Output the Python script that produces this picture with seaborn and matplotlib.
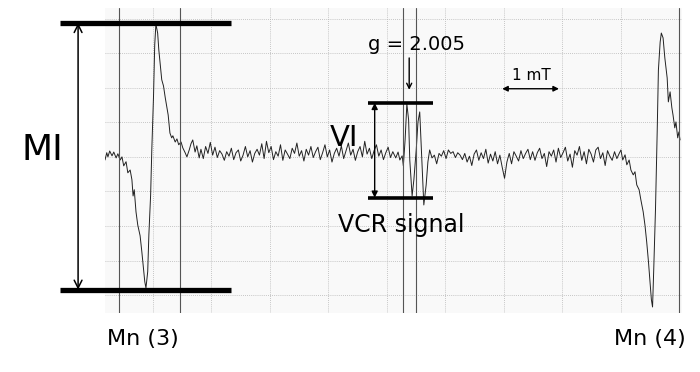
import matplotlib
matplotlib.use("Agg")
import matplotlib.pyplot as plt
import numpy as np
import pandas as pd
import seaborn as sns

# ESR trace: field in mT (grid = 1 mT), signal in grid divisions
# Mn(3) line
MN3_FIELD = [0.18, 0.21, 0.23, 0.26, 0.30, 0.33, 0.37, 0.40, 0.44, 0.47,
             0.50, 0.54, 0.57, 0.61, 0.64, 0.66, 0.68, 0.71, 0.74, 0.78,
             0.81, 0.84, 0.86, 0.88, 0.91, 0.93, 0.96, 0.98, 1.01, 1.03,
             1.05, 1.08, 1.10, 1.13, 1.15, 1.18, 1.21, 1.24, 1.26, 1.29,
             1.32, 1.34, 1.38, 1.41, 1.44, 1.48, 1.51, 1.55, 1.58, 1.62,
             1.65, 1.68, 1.72, 1.75, 1.79]
MN3_SIGNAL = [-0.09, 0.12, 0.00, 0.17, 0.03, 0.14, -0.03, 0.09, -0.09, 0.00,
              -0.26, -0.14, -0.46, -0.38, -0.66, -1.13, -0.95, -1.59, -1.97, -2.28,
              -2.75, -3.27, -3.61, -3.79, -3.32, -2.25, -1.10, 0.20, 1.79, 3.24,
              3.84, 3.58, 3.09, 2.57, 2.23, 2.05, 1.71, 1.42, 1.21, 0.69,
              0.55, 0.61, 0.43, 0.52, 0.35, 0.43, 0.26, 0.12, 0.00, 0.20,
              0.38, 0.49, 0.14, 0.32, -0.03]

# baseline between Mn(3) and the VCR line
BASE1_FIELD = [1.82, 1.86, 1.90, 1.94, 1.98, 2.02, 2.06, 2.10, 2.14, 2.18,
               2.22, 2.26, 2.30, 2.34, 2.38, 2.42, 2.46, 2.50, 2.54, 2.58,
               2.62, 2.66, 2.70, 2.74, 2.78, 2.82, 2.86, 2.90, 2.94, 2.98,
               3.02, 3.06, 3.10, 3.14, 3.18, 3.22, 3.26, 3.30, 3.34, 3.38,
               3.42, 3.46, 3.50, 3.54, 3.58, 3.62, 3.66, 3.70, 3.74, 3.78,
               3.82, 3.86, 3.90, 3.94, 3.98, 4.02, 4.06, 4.10, 4.14, 4.18,
               4.22, 4.26, 4.30, 4.34, 4.38, 4.42, 4.46, 4.50, 4.54, 4.58,
               4.62, 4.66, 4.70, 4.74, 4.78, 4.82, 4.86, 4.90, 4.94, 4.98,
               5.02, 5.06, 5.10]
BASE1_SIGNAL = [0.22, -0.05, 0.30, 0.10, 0.42, 0.05, 0.28, -0.02, 0.18, 0.08,
                -0.10, 0.15, 0.02, 0.25, -0.08, 0.12, 0.20, -0.12, 0.05, 0.30,
                0.00, 0.18, -0.15, 0.10, 0.22, 0.05, 0.38, -0.05, 0.45, 0.12,
                0.30, -0.08, 0.15, 0.02, 0.35, -0.10, 0.20, 0.08, -0.05, 0.25,
                0.10, 0.40, 0.02, 0.18, -0.12, 0.22, 0.05, 0.30, -0.02, 0.15,
                0.28, -0.08, 0.12, 0.35, 0.00, 0.20, -0.15, 0.10, 0.25, 0.02,
                0.32, -0.05, 0.18, 0.40, 0.05, 0.22, -0.10, 0.15, 0.30, 0.00,
                0.45, 0.08, 0.25, -0.05, 0.18, 0.35, 0.02, 0.20, -0.08, 0.12,
                0.28, -0.02, 0.15]

# VCR signal, g = 2.005
VCR_FIELD = [5.15, 5.19, 5.22, 5.26, 5.28, 5.31, 5.34, 5.37, 5.39, 5.43,
             5.46, 5.50, 5.53, 5.56, 5.60, 5.63, 5.67, 5.70, 5.73, 5.77]
VCR_SIGNAL = [-0.03, 0.14, -0.09, 0.03, -0.26, 0.49, 1.53, 1.07, -0.09, -1.13,
              -0.66, 0.20, 1.01, 1.30, -0.23, -1.39, -0.81, -0.14, 0.20, -0.03]

# baseline between the VCR line and Mn(4)
BASE2_FIELD = [5.81, 5.85, 5.89, 5.93, 5.97, 6.01, 6.05, 6.09, 6.13, 6.17,
               6.21, 6.25, 6.29, 6.33, 6.37, 6.41, 6.45, 6.49, 6.53, 6.57,
               6.61, 6.65, 6.69, 6.73, 6.77, 6.81, 6.85, 6.89, 6.93, 6.97,
               7.01, 7.05, 7.09, 7.13, 7.17, 7.21, 7.25, 7.29, 7.33, 7.37,
               7.41, 7.45, 7.49, 7.53, 7.57, 7.61, 7.65, 7.69, 7.73, 7.77,
               7.81, 7.85, 7.89, 7.93, 7.97, 8.01, 8.05, 8.09, 8.13, 8.17,
               8.21, 8.25, 8.29, 8.33, 8.37, 8.41, 8.45, 8.49, 8.53, 8.57,
               8.61, 8.65, 8.69, 8.73, 8.77, 8.81, 8.85, 8.89, 8.93, 8.97]
BASE2_SIGNAL = [0.05, -0.20, 0.10, 0.02, 0.18, -0.05, 0.20, 0.10, 0.15, -0.02,
                0.12, 0.05, -0.08, 0.10, -0.15, 0.02, -0.25, 0.08, 0.20, -0.10,
                0.12, -0.05, 0.22, -0.18, 0.08, -0.12, 0.15, -0.20, 0.05, -0.30,
                -0.62, -0.15, 0.10, -0.20, 0.15, 0.02, -0.12, 0.18, -0.05, 0.10,
                0.22, -0.08, 0.15, -0.10, 0.12, 0.25, -0.05, 0.10, -0.28, 0.15,
                0.02, 0.20, -0.15, 0.25, -0.02, 0.12, 0.28, -0.12, 0.08, -0.30,
                0.18, 0.05, 0.30, -0.10, 0.15, -0.20, 0.22, 0.08, -0.15, 0.20,
                0.28, -0.05, 0.12, -0.25, 0.18, 0.02, -0.10, 0.15, -0.05, 0.10]

# Mn(4) line
MN4_FIELD = [9.00, 9.03, 9.07, 9.10, 9.14, 9.17, 9.21, 9.24, 9.27, 9.31,
             9.34, 9.38, 9.41, 9.44, 9.47, 9.50, 9.52, 9.54, 9.56, 9.59,
             9.62, 9.64, 9.67, 9.69, 9.72, 9.75, 9.79, 9.81, 9.84, 9.87,
             9.89, 9.92, 9.94, 9.97, 9.99, 10.01]
MN4_SIGNAL = [0.20, -0.09, 0.06, -0.23, -0.09, -0.38, -0.52, -0.43, -0.81, -0.95,
              -1.24, -1.59, -1.97, -2.46, -3.03, -3.70, -4.13, -4.34, -3.27, -1.53,
              0.78, 2.51, 3.32, 3.58, 3.44, 2.86, 2.28, 1.59, 1.88, 1.42,
              1.21, 0.84, 1.01, 0.55, 0.72, 0.49]

# reference marker lines drawn across the chart (mT)
MARKER_LINES = [0.42, 1.47, 5.28, 5.49, 10.0]

df = pd.DataFrame({
    "field": MN3_FIELD + BASE1_FIELD + VCR_FIELD + BASE2_FIELD + MN4_FIELD,
    "signal": MN3_SIGNAL + BASE1_SIGNAL + VCR_SIGNAL + BASE2_SIGNAL + MN4_SIGNAL,
})

sns.set_style("white")
plt.rcParams["font.family"] = ["DejaVu Sans"]
plt.rcParams["text.color"] = "black"

fig = plt.figure(figsize=(7, 3.72), dpi=100)
ax = fig.add_axes([0.15, 0.159, 0.824, 0.82])
ax.set_facecolor("#f9f9f9")

sns.lineplot(data=df, x="field", y="signal", sort=False, estimator=None,
             color="#222222", linewidth=0.7, ax=ax)

ax.set_xlim(0.18, 10.04)
ax.set_ylim(-4.51, 4.31)
ax.set_xticks(np.arange(1, 11))
ax.set_yticks(np.arange(-4, 5))
ax.grid(True, color="#b5b5b5", linestyle=(0, (1, 1.5)), linewidth=0.6)
ax.tick_params(length=0, labelbottom=False, labelleft=False)
ax.set_xlabel("")
ax.set_ylabel("")
for s in ax.spines.values():
    s.set_visible(False)

for xv in MARKER_LINES:
    ax.axvline(xv, color="#555555", linewidth=0.8)

# MI bars and arrow
for yv in (3.87, -3.84):
    ax.plot([-0.59, 2.33], [yv, yv], color="black", linewidth=3.8,
            solid_capstyle="butt", clip_on=False)
ax.annotate("", xy=(-0.28, 3.87), xytext=(-0.28, -3.84),
            arrowprops=dict(arrowstyle="<->", lw=1.1, color="black",
                            mutation_scale=14, shrinkA=0, shrinkB=0),
            annotation_clip=False)
ax.text(-0.89, 0.2, "MI", fontsize=26, ha="center", va="center")

# VI bars and arrow
for yv in (1.56, -1.18):
    ax.plot([4.68, 5.79], [yv, yv], color="black", linewidth=2.6,
            solid_capstyle="butt", clip_on=False)
ax.annotate("", xy=(4.79, 1.56), xytext=(4.79, -1.18),
            arrowprops=dict(arrowstyle="<|-|>", lw=1.0, color="black",
                            mutation_scale=9, shrinkA=0, shrinkB=0))
ax.text(4.26, 0.56, "VI", fontsize=21, ha="center", va="center")
ax.text(5.24, -2.17, "VCR signal", fontsize=17, ha="center", va="baseline")

# g value arrow
ax.text(5.50, 3.09, "g = 2.005", fontsize=14, ha="center", va="baseline")
ax.annotate("", xy=(5.38, 1.94), xytext=(5.38, 2.86),
            arrowprops=dict(arrowstyle="->", lw=1.0, color="black",
                            mutation_scale=9, shrinkA=0, shrinkB=0))

# 1 mT scale
ax.annotate("", xy=(6.97, 1.97), xytext=(7.94, 1.97),
            arrowprops=dict(arrowstyle="<|-|>", lw=1.0, color="black",
                            mutation_scale=8, shrinkA=0, shrinkB=0))
ax.text(7.47, 2.23, "1 mT", fontsize=11, ha="center", va="baseline")

ax.text(0.83, -5.43, "Mn (3)", fontsize=16, ha="center", va="baseline")
ax.text(9.50, -5.43, "Mn (4)", fontsize=16, ha="center", va="baseline")

fig.savefig("out.png", dpi=100)
